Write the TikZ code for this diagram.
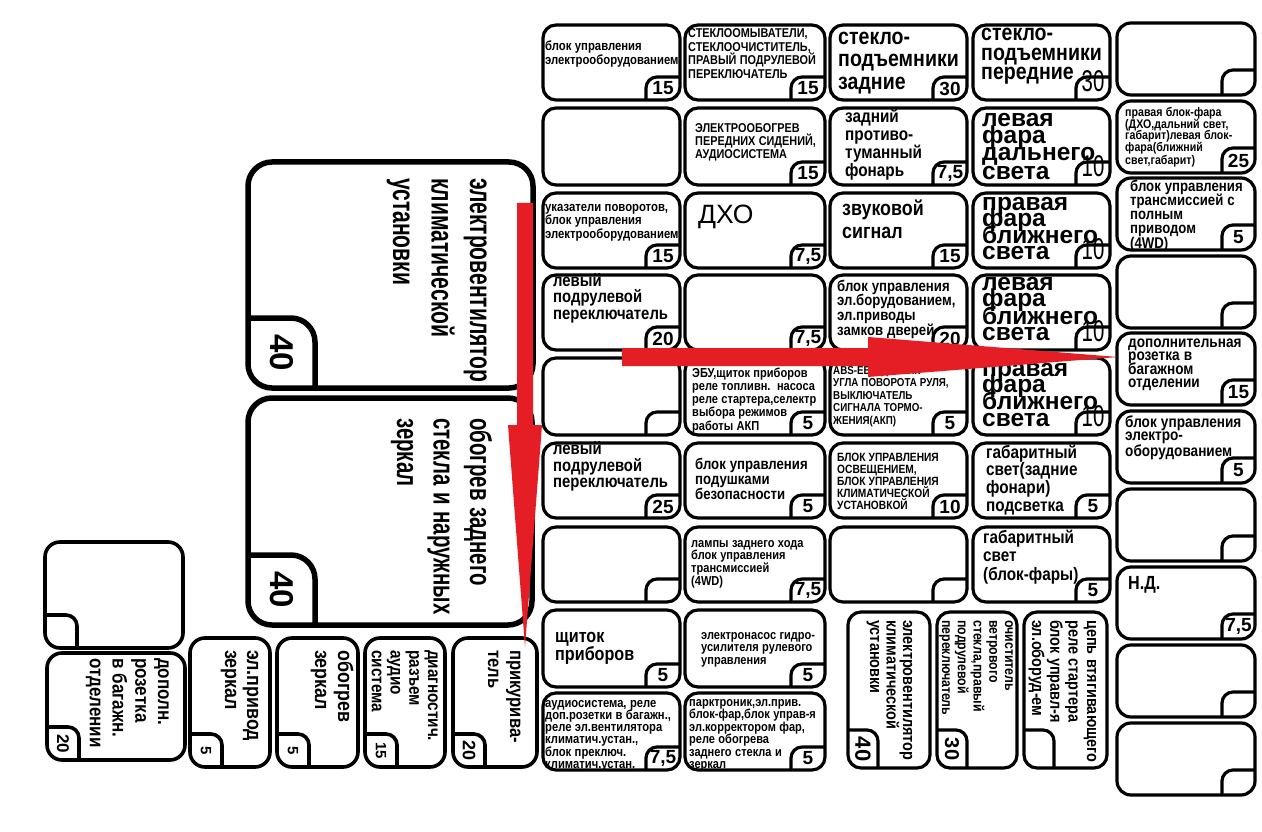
\documentclass[tikz,border=0pt]{standalone}
\usepackage{fontspec}
\setmainfont{Liberation Sans}
\newfontfamily\cond{Liberation Sans}[FakeStretch=0.85]
\newfontfamily\narrow{Liberation Sans}[FakeStretch=0.68]
\definecolor{arrowred}{RGB}{228,30,36}

% fuse with the rating tab in the lower right corner
\newcommand{\fuseBR}[8]{%
  \draw[fuse] (#2) rectangle (#3);
  \draw[fusetab] (#3) ++(-\tabw,0) -- ++(0,-\tabh) -- ++(\tabw,0);
  \path (#3) ++(-\tabw/2,-\tabh/2) node[rating] (#1-num) {#4};
  \node[boxtext, font=\boxfont\bfseries\fontsize{#6}{#7}\selectfont, anchor=base west] (#1) at (#5)
    {\lineskiplimit=-60pt\spaceskip=\wordgap em\relax #8};
}
% turned fuse with the rating tab in the lower left corner
\newcommand{\fuseBL}[8]{%
  \coordinate (#1-nw) at (#2);
  \coordinate (#1-se) at (#3);
  \draw[fuse] (#1-nw) rectangle (#1-se);
  \draw[fusetab] (#1-nw |- #1-se) ++(0,-\tabh) -- ++(\tabw,0) -- ++(0,\tabh);
  \path (#1-nw |- #1-se) ++(\tabw/2,-\tabh/2) node[rating, rotate=-90] (#1-num) {#4};
  \node[boxtext, font=\boxfont\bfseries\fontsize{#6}{#7}\selectfont, rotate=-90, anchor=base west] (#1) at (#5)
    {\lineskiplimit=-60pt\spaceskip=\wordgap em\relax #8};
}
\newcommand{\thinnum}[1]{\raisebox{0pt}[\height][14pt]{\narrow\mdseries\fontsize{30}{30}\selectfont #1}}
\newcommand{\numsz}[2]{{\fontsize{#1}{#1}\selectfont #2}}
\def\boxfont{\cond}
\def\wordgap{0.26}
\def\tabw{34}
\def\tabh{23}

\begin{document}
\begin{tikzpicture}[x=1pt, y=-1pt,
  fuse/.style={draw, line width=3.2pt, rounded corners=13pt},
  fusetab/.style={draw, line width=3.2pt, rounded corners=11pt},
  rating/.style={inner sep=0pt, font=\bfseries\fontsize{19}{19}\selectfont},
  boxtext/.style={inner sep=0pt, text width=230pt, align=left},
  redarrow/.style={fill=arrowred}]

\path[use as bounding box, fill=white] (0,0) rectangle (1262,832);

% Main block, row 1
\fuseBR{ecuA}{543,25}{680,100}{15}{545,51}{13.3}{13.5}{блок управления\\электрооборудованием}
\fuseBR{washer}{685,25}{825,100}{15}{688,37.5}{12.8}{13.7}{СТЕКЛООМЫВАТЕЛИ,\\СТЕКЛООЧИСТИТЕЛЬ,\\ПРАВЫЙ ПОДРУЛЕВОЙ\\ПЕРЕКЛЮЧАТЕЛЬ}
\fuseBR{winRear}{830,25}{967,100}{30}{838,44.5}{23}{22.5}{стекло-\\подъемники\\задние}
\fuseBR{winFront}{973,25}{1110,100}{\thinnum{30}}{981,41}{23}{19.5}{стекло-\\подъемники\\передние}

% row 2
\draw[fuse] (543,108) rectangle (680,185);
\fuseBR{seatHeat}{685,108}{825,185}{15}{695,132.5}{12.8}{13}{ЭЛЕКТРООБОГРЕВ\\ПЕРЕДНИХ СИДЕНИЙ,\\АУДИОСИСТЕМА}
\fuseBR{fogRear}{830,108}{967,185}{7,5}{845,123}{18}{17.7}{задний\\противо-\\туманный\\фонарь}
\fuseBR{highLeft}{973,108}{1110,185}{\thinnum{10}}{982,127}{24.5}{16.7}{\rmfamily левая\\фара\\дальнего\\света}

% row 3
\fuseBR{turn}{543,193}{680,268}{15}{545,211.5}{13.3}{13.3}{указатели поворотов,\\блок управления\\электрооборудованием}
\fuseBR{drl}{685,193}{825,268}{7,5}{698,223}{26.5}{26.5}{\rmfamily\mdseries ДХО}
\fuseBR{horn}{830,193}{967,268}{15}{842,215.5}{21}{23.3}{звуковой\\сигнал}
\fuseBR{lowRightA}{973,193}{1110,268}{\thinnum{10}}{982,210.5}{24.5}{16.5}{\rmfamily правая\\фара\\ближнего\\света}

% row 4
\fuseBR{stalkA}{543,275}{680,350}{20}{553,286}{17.5}{16.7}{левый\\подрулевой\\переключатель}
\fuseBR{spareA}{685,275}{825,350}{7,5}{690,290}{13}{13}{}
\fuseBR{locks}{830,275}{967,350}{20}{837,291}{15.5}{14.8}{блок управления\\эл.борудованием,\\эл.приводы\\замков дверей}
\fuseBR{lowLeft}{973,275}{1110,350}{\thinnum{10}}{982,290}{24.5}{17}{\rmfamily левая\\фара\\ближнего\\света}

% row 5
\fuseBR{spareB}{543,358}{680,435}{}{548,375}{13}{13}{}
\fuseBR{ebu}{685,358}{825,435}{5}{692,377}{13}{13.3}{ЭБУ,щиток приборов\\реле топливн. насоса\\реле стартера,селектр\\выбора режимов\\работы АКП}
\fuseBR{abs}{830,358}{967,435}{5}{833,374}{11.5}{12.5}{ABS-ЕБУ, ДАТЧИК\\УГЛА ПОВОРОТА РУЛЯ,\\ВЫКЛЮЧАТЕЛЬ\\СИГНАЛА ТОРМО-\\ЖЕНИЯ(АКП)}
\fuseBR{lowRightB}{973,358}{1110,435}{\thinnum{10}}{982,376}{24.5}{16.7}{\rmfamily правая\\фара\\ближнего\\света}

% row 6
\fuseBR{stalkB}{543,443}{680,518}{25}{553,454.5}{17.5}{16.5}{левый\\подрулевой\\переключатель}
\fuseBR{airbag}{685,443}{825,518}{5}{695,469}{15.5}{15}{блок управления\\подушками\\безопасности}
\fuseBR{lightCtl}{830,443}{967,518}{10}{837,461}{12}{12.2}{БЛОК УПРАВЛЕНИЯ\\ОСВЕЩЕНИЕМ,\\БЛОК УПРАВЛЕНИЯ\\КЛИМАТИЧЕСКОЙ\\УСТАНОВКОЙ}
\fuseBR{parkRear}{973,443}{1110,518}{5}{986,458}{18}{17.8}{габаритный\\свет(задние\\фонари)\\подсветка}

% row 7
\fuseBR{spareC}{543,527}{680,602}{}{548,545}{13}{13}{}
\fuseBR{reverse}{685,527}{825,602}{7,5}{691,547}{13}{12.8}{лампы заднего хода\\блок управления\\трансмиссией\\(4WD)}
\fuseBR{spareD}{830,527}{967,602}{}{835,545}{13}{13}{}
\fuseBR{parkFront}{973,527}{1110,602}{5}{983,543}{18}{18.5}{габаритный\\свет\\(блок-фары)}

% rows 8 and 9
\fuseBR{cluster}{543,610}{680,687}{5}{555,642}{19}{15.5}{щиток\\приборов}
\fuseBR{pump}{685,610}{825,687}{5}{701,639}{13}{12.5}{электронасос гидро-\\усилителя рулевого\\управления}
\fuseBR{audio}{543,693}{680,770}{7,5}{545,707}{13.2}{12.3}{аудиосистема, реле\\доп.розетки в багажн.,\\реле эл.вентилятора\\климатич.устан.,\\блок преключ.\\климатич.устан.}
\fuseBR{parktronic}{685,693}{825,770}{5}{689,706}{13}{12.5}{парктроник,эл.прив.\\блок-фар,блок управ-я\\эл.корректором фар,\\реле обогрева\\заднего стекла и\\зеркал}

% Right column
\begin{scope}[fuse/.append style={rounded corners=14pt}]
\def\tabw{33}\def\tabh{25}
\fuseBR{spareE}{1117,23}{1255,95}{}{1125,45}{13}{13}{}
\fuseBR{headUnits}{1117,101}{1255,173}{25}{1125,116.5}{12.5}{11.6}{правая блок-фара\\(ДХО,дальний свет,\\габарит)левая блок-\\фара(ближний\\свет,габарит)}
\fuseBR{awd}{1117,178}{1255,250}{5}{1130,192}{15.5}{13.8}{блок управления\\трансмиссией с\\полным\\приводом\\(4WD)}
\fuseBR{spareF}{1117,256}{1255,328}{}{1125,275}{13}{13}{}
\fuseBR{socketA}{1117,333}{1255,405}{15}{1128,347.5}{16}{13.3}{дополнительная\\розетка в\\багажном\\отделении}
\fuseBR{ecuB}{1117,411}{1255,483}{5}{1125,427}{16}{13.3}{блок управления\\электро-\\оборудованием}
\fuseBR{spareG}{1117,489}{1255,561}{}{1125,505}{13}{13}{}
\fuseBR{nd}{1117,567}{1255,639}{7,5}{1128,589}{19}{19}{Н.Д.}
\fuseBR{spareH}{1117,645}{1255,717}{}{1125,665}{13}{13}{}
\fuseBR{spareI}{1117,723}{1255,795}{}{1125,745}{13}{13}{}
\end{scope}

% Turned fuses under the main block
\begin{scope}
\def\tabw{30}\def\tabh{38}
\fuseBL{fanB}{848,612}{930,768}{\numsz{22}{40}}{903,620}{17}{16.5}{электровентилятор\\климатической\\установки}
\fuseBL{wiper}{937,612}{1017,768}{\numsz{20}{30}}{1005,620}{14.5}{15.7}{очиститель\\ветрового\\стекла,правый\\подрулевой\\переключатель}
\fuseBL{starter}{1024,612}{1107,768}{}{1087,620}{17}{18.3}{цепь втягивающего\\реле стартера\\блок управл-я\\эл.оборуд-ем}
\end{scope}

% Large fuses
\begin{scope}[fuse/.append style={line width=5.5pt, rounded corners=24pt},
  fusetab/.append style={line width=5.5pt, rounded corners=24pt}]
\def\tabw{67}\def\tabh{70}
\def\boxfont{\narrow}\def\wordgap{0.22}
\fuseBL{fanA}{248,162}{533,388}{\numsz{33}{40}}{470,178}{31}{38.5}{электровентилятор\\климатической\\установки}
\fuseBL{rearHeat}{248,398}{532,625}{\numsz{33}{40}}{470,418}{30}{36.5}{обогрев заднего\\стекла и наружных\\зеркал}
\end{scope}

% Lower left fuses
\begin{scope}[fuse/.append style={line width=3.6pt, rounded corners=15pt},
  fusetab/.append style={line width=3.6pt}]
\def\tabw{32}\def\tabh{33}
\fuseBL{spareJ}{45,542}{183,648}{}{170,550}{13}{13}{}
\fuseBL{socketB}{47,653}{185,760}{\numsz{17}{20}}{158,658}{20}{22.7}{дополн.\\розетка\\в багажн.\\отделении}
\fuseBL{mirrorDrive}{190,638}{270,767}{\numsz{15}{5}}{247,650}{21}{22}{эл.привод\\зеркал}
\fuseBL{mirrorHeat}{277,638}{358,767}{\numsz{15}{5}}{338,650}{21}{23}{обогрев\\зеркал}
\fuseBL{diag}{365,638}{445,767}{\numsz{15}{15}}{428,650}{18}{18.7}{диагностич.\\разъем\\аудио\\система}
\fuseBL{lighter}{453,638}{537,767}{\numsz{18}{20}}{510,650}{19.5}{22}{прикурива-\\тель}
\end{scope}

% Red arrows
\coordinate (vtop) at (525,203);
\coordinate (vtip) at (525,647);
\coordinate (htail) at (622,357);
\coordinate (htip) at (1118,357);
\fill[redarrow] ([xshift=-8pt]vtop) -- ([xshift=8pt]vtop)
  -- ([xshift=8pt,yshift=222pt]vtip) -- ([xshift=17pt,yshift=222pt]vtip) -- (vtip)
  -- ([xshift=-17pt,yshift=222pt]vtip) -- ([xshift=-8pt,yshift=222pt]vtip) -- cycle;
\fill[redarrow] ([yshift=9pt]htail) -- ([yshift=-9pt]htail)
  -- ([xshift=-250pt,yshift=-9pt]htip) -- ([xshift=-250pt,yshift=-20pt]htip) -- (htip)
  -- ([xshift=-250pt,yshift=20pt]htip) -- ([xshift=-250pt,yshift=9pt]htip) -- cycle;

\end{tikzpicture}
\end{document}
